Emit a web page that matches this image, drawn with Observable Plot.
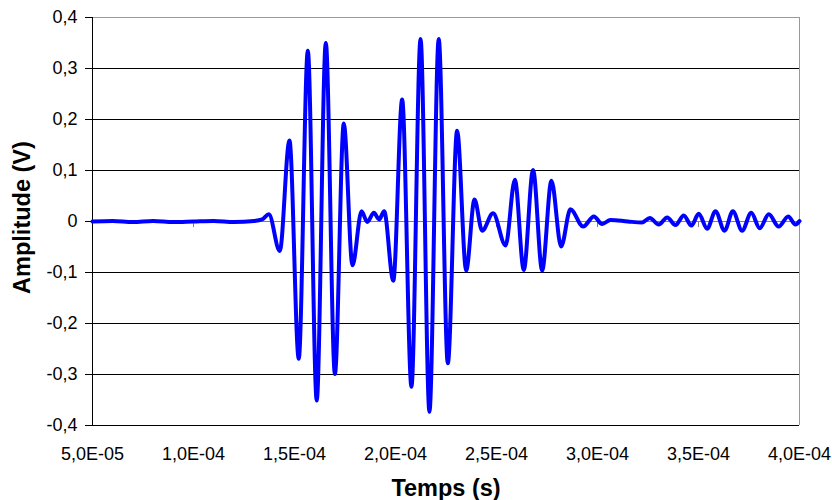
<!DOCTYPE html>
<html>
<head>
<meta charset="utf-8">
<script src="https://cdn.jsdelivr.net/npm/d3@7"></script>
<script src="https://cdn.jsdelivr.net/npm/@observablehq/plot@0.6"></script>
<style>
  html, body { margin: 0; padding: 0; background: #fff; }
  #chart svg { display: block; }
</style>
</head>
<body>
<div id="chart"></div>
<script>
// Time (s) of each sample (extrema and flat stretches)
const times = [
  0.500e-4, 0.600e-4, 0.700e-4, 0.800e-4, 0.900e-4, 1.000e-4, 1.100e-4, 1.200e-4, 1.300e-4,
  1.340e-4, 1.373e-4, 1.427e-4, 1.475e-4, 1.521e-4, 1.566e-4, 1.610e-4, 1.655e-4, 1.700e-4,
  1.744e-4, 1.787e-4, 1.832e-4, 1.860e-4, 1.893e-4, 1.919e-4, 1.944e-4, 1.989e-4, 2.033e-4,
  2.079e-4, 2.124e-4, 2.168e-4, 2.214e-4, 2.259e-4, 2.305e-4, 2.350e-4, 2.391e-4, 2.429e-4,
  2.483e-4, 2.545e-4, 2.591e-4, 2.635e-4, 2.681e-4, 2.726e-4, 2.772e-4, 2.820e-4, 2.866e-4,
  2.929e-4, 2.982e-4, 3.023e-4, 3.064e-4, 3.150e-4, 3.220e-4, 3.259e-4, 3.303e-4, 3.345e-4,
  3.386e-4, 3.427e-4, 3.465e-4, 3.501e-4, 3.543e-4, 3.584e-4, 3.629e-4, 3.670e-4, 3.716e-4,
  3.761e-4, 3.803e-4, 3.848e-4, 3.897e-4, 3.944e-4, 3.980e-4, 4.000e-4
];
// Amplitude (V) at each of those times
const amplitudes = [
  0.000, 0.001, -0.001, 0.001, -0.001, 0.000, 0.001, -0.001, 0.001,
  0.004, 0.014, -0.058, 0.159, -0.269, 0.335, -0.351, 0.350, -0.299,
  0.192, -0.086, 0.020, -0.001, 0.017, 0.004, 0.020, -0.116, 0.239,
  -0.324, 0.358, -0.373, 0.358, -0.278, 0.178, -0.096, 0.043, -0.018,
  0.016, -0.047, 0.082, -0.095, 0.101, -0.096, 0.080, -0.049, 0.024,
  -0.010, 0.010, -0.005, 0.003, 0.000, -0.002, 0.007, -0.006, 0.008,
  -0.007, 0.012, -0.008, 0.015, -0.014, 0.020, -0.018, 0.020, -0.018,
  0.017, -0.013, 0.014, -0.010, 0.010, -0.006, 0.001
];
const xTicks = [5e-5, 1e-4, 1.5e-4, 2e-4, 2.5e-4, 3e-4, 3.5e-4, 4e-4];
const yTicks = [-0.4, -0.3, -0.2, -0.1, 0, 0.1, 0.2, 0.3, 0.4];
const xTitle = "Temps (s)";
const yTitle = "Amplitude (V)";

const signal = times.map((t, i) => ({t, v: amplitudes[i]}));

const fmtX = (x) => {
  const [m, e] = x.toExponential(1).split("e");
  const sign = e[0] === "-" ? "-" : "+";
  const digits = e.replace(/^[+-]/, "").padStart(2, "0");
  return m.replace(".", ",") + "E" + sign + digits;
};
const fmtY = (v) => Math.abs(v) < 1e-9 ? "0" : v.toFixed(1).replace(".", ",");

const font = "'Liberation Sans', Arial, Helvetica, sans-serif";
const gridLines = yTicks.filter(v => v !== 0 && v !== 0.4);
const innerTicks = xTicks.slice(1, -1);

const chart = Plot.plot({
  width: 832,
  height: 500,
  marginTop: 17,
  marginRight: 33,
  marginBottom: 75,
  marginLeft: 92,
  style: {fontFamily: font, background: "#fff", color: "#000"},
  x: {domain: [5e-5, 4e-4]},
  y: {domain: [-0.4, 0.4]},
  marks: [
    // horizontal gridlines
    Plot.ruleY(gridLines, {stroke: "#000", strokeWidth: 1}),
    // top & right border
    Plot.ruleY([0.4], {stroke: "#999", strokeWidth: 1}),
    Plot.ruleX([4e-4], {stroke: "#999", strokeWidth: 1}),
    // zero axis with its tick marks
    Plot.ruleY([0], {stroke: "#808080", strokeWidth: 1}),
    Plot.ruleX(innerTicks, {y1: 0, y2: -0.012, stroke: "#808080", strokeWidth: 1}),
    // left axis line
    Plot.ruleX([5e-5], {stroke: "#000", strokeWidth: 1}),
    Plot.axisY(yTicks, {tickSize: 7, tickPadding: 8, tickFormat: fmtY, fontSize: 18, label: null}),
    Plot.axisX(xTicks, {tickSize: 0, tickPadding: 22, tickFormat: fmtX, fontSize: 18, label: null}),
    Plot.text([xTitle], {frameAnchor: "bottom", dy: 63, fontSize: 23.5, fontWeight: "bold", lineAnchor: "middle"}),
    Plot.text([yTitle], {frameAnchor: "left", dx: -70, dy: -4, rotate: -90, fontSize: 23.5, fontWeight: "bold", lineAnchor: "middle", textAnchor: "middle"}),
    Plot.line(signal, {x: "t", y: "v", curve: "monotone-x", stroke: "#0000ff", strokeWidth: 4})
  ]
});
document.getElementById("chart").appendChild(chart);
</script>
</body>
</html>
